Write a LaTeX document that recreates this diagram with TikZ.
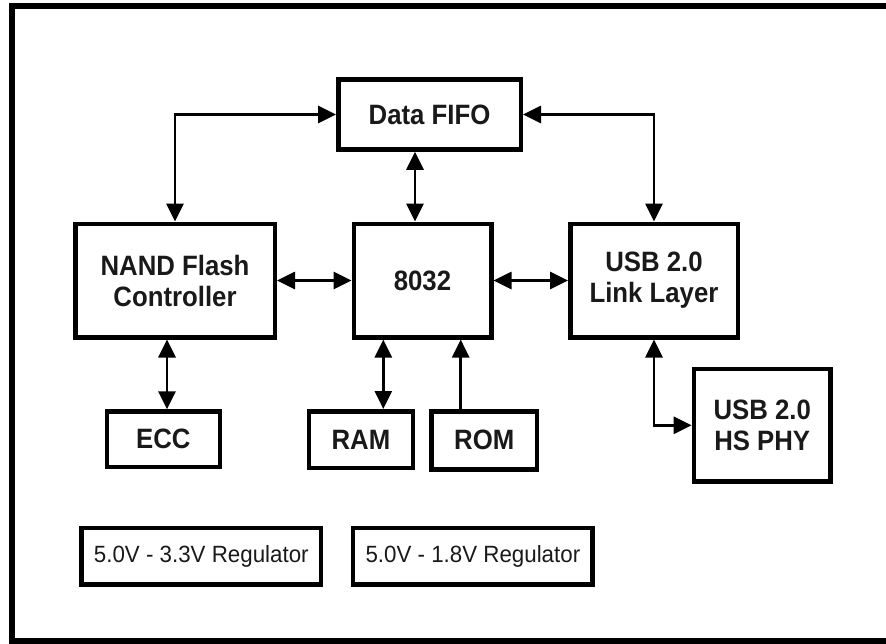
\documentclass[tikz,border=0pt]{standalone}
\usepackage{fontspec}
\setmainfont{Liberation Sans}
\newfontfamily\blkfont[FakeStretch=0.92]{Liberation Sans}
\newfontfamily\regfont[FakeStretch=0.95]{Liberation Sans}
\usetikzlibrary{arrows.meta}
\tikzset{
  blk/.style={draw=black, line width=4.5pt, rectangle, inner sep=0pt, align=center,
    font=\blkfont\bfseries\fontsize{28}{31}\selectfont, text=black!90},
  regbox/.style={draw=black, line width=4.5pt, rectangle, inner sep=0pt, align=center,
    font=\regfont\fontsize{23.5}{27}\selectfont, text=black!90},
  biarrow/.style={line width=2.7pt, {Triangle[length=18pt,width=17pt]}-{Triangle[length=18pt,width=17pt]}},
  onearrow/.style={line width=2.7pt, -{Triangle[length=18pt,width=17pt]}},
}
\begin{document}
\begin{tikzpicture}[x=1pt,y=-1pt]
\useasboundingbox (0,0) rectangle (886,643);
\begin{scope}
\clip (0,0) rectangle (886,643);
\draw[line width=6pt] (12,5.5) rectangle (900,641);
\end{scope}

\node[blk, minimum width=182.5pt, minimum height=70pt] (fifo) at (429.5,114.5) {Data FIFO};
\node[blk, minimum width=199.5pt, minimum height=113.5pt] (nand) at (175,280.5) {NAND Flash\\Controller};
\node[blk, minimum width=137.5pt, minimum height=113.5pt] (cpu) at (422.5,280.5) {8032};
\node[blk, minimum width=167.5pt, minimum height=113.5pt] (link) at (654,280.5) {USB 2.0\\Link Layer};
\node[blk, minimum width=113pt, minimum height=55.5pt] (ecc) at (163.3,439.3) {ECC};
\node[blk, minimum width=103.8pt, minimum height=56.5pt] (ram) at (360.9,439.5) {RAM};
\node[blk, minimum width=105.8pt, minimum height=58pt] (rom) at (484.2,440.3) {ROM};
\node[blk, minimum width=136.5pt, minimum height=112.8pt] (phy) at (762.2,425.3) {USB 2.0\\HS PHY};
\node[regbox, minimum width=239.5pt, minimum height=56.2pt] (reg1) at (201.3,556.3) {5.0V - 3.3V Regulator};
\node[regbox, minimum width=239.6pt, minimum height=56.2pt] (reg2) at (472.9,556.3) {5.0V - 1.8V Regulator};

\coordinate (cf) at (415,0);
\coordinate (ce) at (167,0);
\coordinate (cr) at (383.3,0);
\coordinate (co) at (460.7,0);

\draw[biarrow] (fifo.west) -| (nand.north);
\draw[biarrow] (fifo.east) -| (link.north);
\draw[biarrow] (fifo.south -| cf) -- (cpu.north -| cf);
\draw[biarrow] (nand.east) -- (cpu.west);
\draw[biarrow] (cpu.east) -- (link.west);
\draw[biarrow] (nand.south -| ce) -- (ecc.north -| ce);
\draw[biarrow] (cpu.south -| cr) -- (ram.north -| cr);
\draw[onearrow] (rom.north -| co) -- (cpu.south -| co);
\draw[biarrow] (link.south) |- (phy.west);
\end{tikzpicture}
\end{document}
